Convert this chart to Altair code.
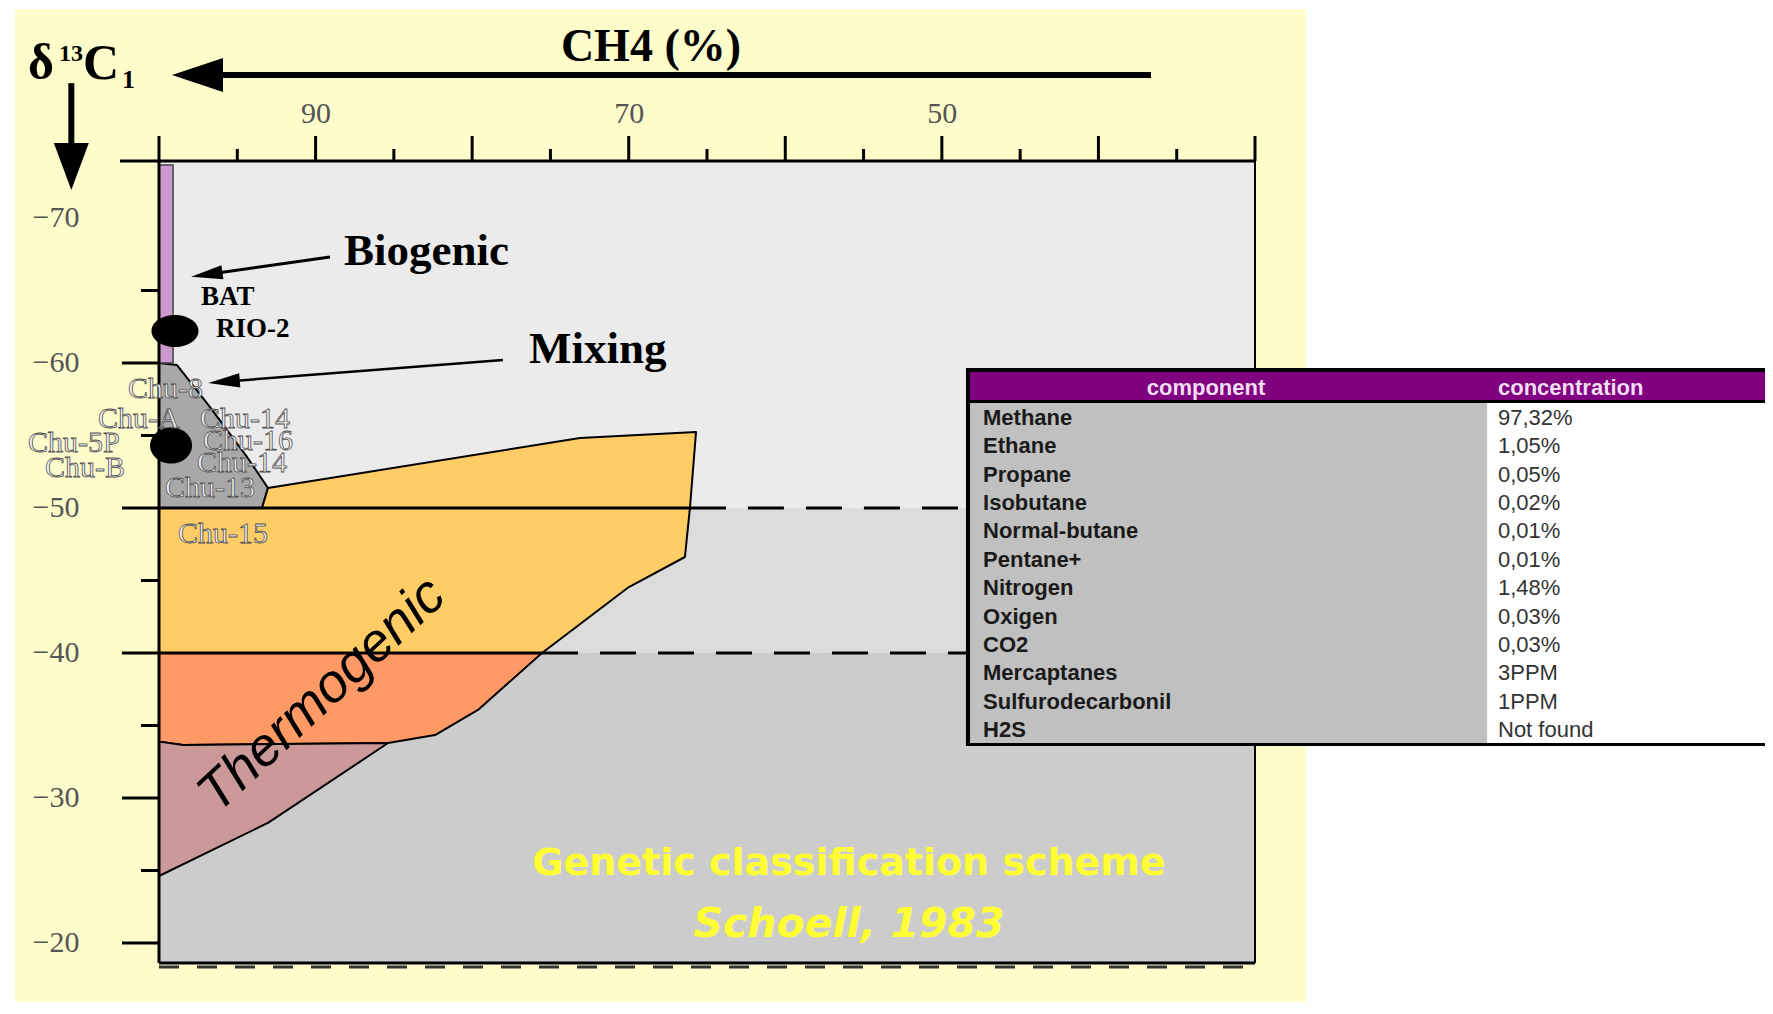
import altair as alt
import pandas as pd

# ---------------- data ----------------
X_LABELS = [90, 70, 50]
X_TICKS_MAJOR = [100, 90, 80, 70, 60, 50, 40, 30]
X_TICKS_MINOR = [95, 85, 75, 65, 55, 45, 35]
Y_LABELS = [-70, -60, -50, -40, -30, -20]
Y_TICKS_MAJOR = [-60, -50, -40, -30, -20]
Y_TICKS_MINOR = [-65, -55, -45, -35, -25]

# genetic fields: CH4 (%) and delta13C1 vertices
BIO_CH4 = [100, 99.1]
BIO_D13C = [-73.65, -60]

MIX_CH4 = [100, 98.85, 96.74, 94.38, 93.04, 93.42, 100, 100]
MIX_D13C = [-60, -59.86, -56.96, -53.52, -51.38, -50, -50, -60]

TH1_CH4 = [93.04, 73.11, 65.70, 66.09, 66.41, 69.99, 75.54, 100, 100, 93.42, 93.04]
TH1_D13C = [-51.38, -54.83, -55.24, -50.0, -46.62, -44.55, -40.0, -40.0, -50.0, -50.0, -51.38]

TH2_CH4 = [100, 75.54, 79.63, 82.37, 85.37, 98.47, 99.87, 100, 100]
TH2_D13C = [-40, -40, -36.07, -34.34, -33.79, -33.66, -33.87, -33.86, -40]

TH3_CH4 = [100, 99.87, 98.47, 85.37, 93.04, 99.87, 100, 100]
TH3_D13C = [-33.86, -33.87, -33.66, -33.79, -28.28, -24.69, -24.62, -33.86]

BOUNDARY_D13C = [-50, -40]
BOUNDARY_SOLID_END = [66.09, 75.54]

# samples
SAMPLE_CH4 = [98.98, 99.23]
SAMPLE_D13C = [-62.21, -54.31]

CHU_NAMES = ["Chu-8", "Chu-A", "Chu-14", "Chu-5P", "Chu-16", "Chu-B", "Chu-14", "Chu-13", "Chu-15"]
CHU_CH4 = [101.98, 103.90, 97.38, 108.37, 97.19, 107.28, 97.57, 99.62, 98.79]
CHU_D13C = [-57.58, -55.52, -55.52, -53.86, -54.0, -52.14, -52.48, -50.76, -47.58]

WELL_NAMES = ["BAT", "RIO-2"]
WELL_CH4 = [97.32, 96.36]
WELL_D13C = [-64.0, -61.79]

TABLE_HEADER = ["component", "concentration"]
COMPONENTS = ["Methane", "Ethane", "Propane", "Isobutane", "Normal-butane", "Pentane+",
              "Nitrogen", "Oxigen", "CO2", "Mercaptanes", "Sulfurodecarbonil", "H2S"]
CONCENTRATIONS = ["97,32%", "1,05%", "0,05%", "0,02%", "0,01%", "0,01%",
                  "1,48%", "0,03%", "0,03%", "3PPM", "1PPM", "Not found"]

# ---------------- layout (in data units of the chart scales) ----------------
X_DOMAIN = [30, 100]
Y_DOMAIN = [-73.93, -18.62]
PANEL = (109.2, 26.74, -84.41, -14.0)
BANDS = [-73.93, -50, -40, -18.62]
BAND_COLORS = ["#EBEBEB", "#DCDCDC", "#CCCCCC"]

XS = alt.Scale(domain=X_DOMAIN, reverse=True, zero=False, nice=False)
YS = alt.Scale(domain=Y_DOMAIN, reverse=True, zero=False, nice=False)
XAX = alt.Axis(orient="top", values=X_LABELS, ticks=False, domain=False, grid=False,
               labelFont="Liberation Serif", labelFontSize=30, labelColor="#555555",
               labelPadding=33, zindex=1)
YAX = alt.Axis(orient="left", values=Y_LABELS, ticks=False, domain=False, grid=False,
               labelFont="Liberation Serif", labelFontSize=30, labelColor="#555555",
               labelPadding=80, zindex=1)
X = alt.X("x:Q", scale=XS, axis=XAX, title=None)
Y = alt.Y("y:Q", scale=YS, axis=YAX, title=None)


def rect(x1, x2, y1, y2, **props):
    df = pd.DataFrame({"x": [x1], "x2": [x2], "y": [y1], "y2": [y2]})
    return alt.Chart(df).mark_rect(**props).encode(x=X, x2=alt.X2("x2"), y=Y, y2=alt.Y2("y2"))


def rules(df, **props):
    enc = dict(x=X, y=Y)
    if "x2" in df:
        enc["x2"] = alt.X2("x2")
    if "y2" in df:
        enc["y2"] = alt.Y2("y2")
    return alt.Chart(df).mark_rule(**props).encode(**enc)


def polygon(xs, ys, fill):
    df = pd.DataFrame({"x": xs, "y": ys, "i": list(range(len(xs)))})
    return alt.Chart(df).mark_line(fill=fill, stroke="black", strokeWidth=2,
                                   strokeJoin="round").encode(x=X, y=Y, order="i:Q")


def symbol(xs, ys, shape, size, angle=0):
    df = pd.DataFrame({"x": xs, "y": ys})
    return alt.Chart(df).mark_point(shape=shape, size=size, angle=angle, filled=True,
                                    color="black", opacity=1).encode(x=X, y=Y)


def text(xs, ys, labels, **props):
    df = pd.DataFrame({"x": xs, "y": ys, "t": labels})
    return alt.Chart(df).mark_text(**props).encode(x=X, y=Y, text="t:N")


layers = []
# yellow panel
layers.append(rect(PANEL[0], PANEL[1], PANEL[2], PANEL[3], color="#FFFCCC"))
# plot background bands
for i, c in enumerate(BAND_COLORS):
    layers.append(rect(100, 30, BANDS[i], BANDS[i + 1], color=c))

# genetic fields
layers.append(polygon(MIX_CH4, MIX_D13C, "#A8A8A8"))
layers.append(polygon(TH1_CH4, TH1_D13C, "#FFCC66"))
layers.append(polygon(TH2_CH4, TH2_D13C, "#FF9966"))
layers.append(polygon(TH3_CH4, TH3_D13C, "#CC9999"))
layers.append(rect(BIO_CH4[0], BIO_CH4[1], BIO_D13C[0], BIO_D13C[1],
                   color="#CC99CC", stroke="#444444", strokeWidth=1.5))

# boundary lines
layers.append(rules(pd.DataFrame({"x": [100] * 2, "x2": BOUNDARY_SOLID_END, "y": BOUNDARY_D13C}),
                    color="black", strokeWidth=3))
layers.append(rules(pd.DataFrame({"x": BOUNDARY_SOLID_END, "x2": [30] * 2, "y": BOUNDARY_D13C}),
                    color="black", strokeWidth=3, strokeDash=[36, 22]))

# frame
layers.append(rules(pd.DataFrame({"x": [102.49], "x2": [30], "y": [Y_DOMAIN[0]]}), color="black", strokeWidth=3))
layers.append(rules(pd.DataFrame({"x": [100], "y": [Y_DOMAIN[0]], "y2": [Y_DOMAIN[1]]}), color="black", strokeWidth=3))
layers.append(rules(pd.DataFrame({"x": [30], "y": [Y_DOMAIN[0]], "y2": [Y_DOMAIN[1]]}), color="black", strokeWidth=2))
layers.append(rules(pd.DataFrame({"x": [100], "x2": [30], "y": [Y_DOMAIN[1]]}), color="black", strokeWidth=3))
layers.append(rules(pd.DataFrame({"x": [100], "x2": [30], "y": [Y_DOMAIN[1]]}), color="#333333",
                    strokeWidth=3, strokeDash=[20, 18], yOffset=4))

# ticks
layers.append(rules(pd.DataFrame({"x": X_TICKS_MAJOR, "y": [Y_DOMAIN[0]] * 8, "y2": [Y_DOMAIN[0]] * 8}),
                    color="black", strokeWidth=3, y2Offset=-25))
layers.append(rules(pd.DataFrame({"x": X_TICKS_MINOR, "y": [Y_DOMAIN[0]] * 7, "y2": [Y_DOMAIN[0]] * 7}),
                    color="black", strokeWidth=3, y2Offset=-12))
layers.append(rules(pd.DataFrame({"x": [100] * 5, "x2": [100] * 5, "y": Y_TICKS_MAJOR}),
                    color="black", strokeWidth=3, x2Offset=-37))
layers.append(rules(pd.DataFrame({"x": [100] * 5, "x2": [100] * 5, "y": Y_TICKS_MINOR}),
                    color="black", strokeWidth=3, x2Offset=-18))

# sample symbols
layers.append(symbol([SAMPLE_CH4[0]], [SAMPLE_D13C[0]], "M -1 0 A 1 0.68 0 1 0 1 0 A 1 0.68 0 1 0 -1 0 Z", 2209))
layers.append(symbol([SAMPLE_CH4[1]], [SAMPLE_D13C[1]], "M -1 0 A 1 0.86 0 1 0 1 0 A 1 0.86 0 1 0 -1 0 Z", 1764))

# sample labels (light letters with a dark edge)
layers.append(text(CHU_CH4, CHU_D13C, CHU_NAMES, font="Liberation Serif", fontSize=30,
                   align="left", baseline="alphabetic", color="#F2F2F2",
                   stroke="#505050", strokeWidth=0.8))
layers.append(text(WELL_CH4, WELL_D13C, WELL_NAMES, font="Liberation Serif", fontSize=27,
                   fontWeight="bold", align="left", baseline="alphabetic", color="black"))

# field names
layers.append(text([88.18], [-66.76], ["Biogenic"], font="Liberation Serif", fontSize=45,
                   fontWeight="bold", align="left", baseline="alphabetic", color="black"))
layers.append(text([76.37], [-60.0], ["Mixing"], font="Liberation Serif", fontSize=45,
                   fontWeight="bold", align="left", baseline="alphabetic", color="black"))
layers.append(text([89.59], [-37.10], ["Thermogenic"], font="Liberation Sans", fontSize=54,
                   fontStyle="italic", align="center", baseline="middle", angle=317, color="black"))

# arrows
layers.append(rules(pd.DataFrame({"x": [89.08], "x2": [96.95], "y": [-67.31], "y2": [-66.10]}),
                    color="black", strokeWidth=3))
layers.append(symbol([96.95], [-66.10], "M -1 0 L 1 -0.45 L 1 0.45 Z", 1000, angle=351.9))
layers.append(rules(pd.DataFrame({"x": [78.03], "x2": [95.85], "y": [-60.21], "y2": [-58.71]}),
                    color="black", strokeWidth=2.5))
layers.append(symbol([95.85], [-58.71], "M -1 0 L 1 -0.45 L 1 0.45 Z", 1000, angle=355.56))
layers.append(rules(pd.DataFrame({"x": [36.64], "x2": [97.54], "y": [-79.86]}), color="black", strokeWidth=6))
layers.append(symbol([97.54], [-79.86], "M -1 0 L 1 -0.667 L 1 0.667 Z", 2601))
layers.append(rules(pd.DataFrame({"x": [105.6], "y": [-79.3], "y2": [-73.55]}), color="black", strokeWidth=6))
layers.append(symbol([105.6], [-73.55], "M 0 1 L -0.745 -1 L 0.745 -1 Z", 2209))

# axis titles
layers.append(text([68.58], [-80.83], ["CH4 (%)"], font="Liberation Serif", fontSize=46,
                   fontWeight="bold", align="center", baseline="alphabetic", color="black"))
layers.append(text([108.37, 104.85], [-79.59, -79.59], ["δ", "C"], font="Liberation Serif", fontSize=50,
                   fontWeight="bold", align="left", baseline="alphabetic", color="black"))
layers.append(text([106.39], [-80.83], ["13"], font="Liberation Serif", fontSize=24,
                   fontWeight="bold", align="left", baseline="alphabetic", color="black"))
layers.append(text([102.36], [-78.96], ["1"], font="Liberation Serif", fontSize=26,
                   fontWeight="bold", align="left", baseline="alphabetic", color="black"))

# scheme caption
layers.append(text([55.93], [-24.69], ["Genetic classification scheme"], font="DejaVu Sans", fontSize=38,
                   fontWeight="bold", align="center", baseline="alphabetic", color="#FFFF33"))
layers.append(text([55.93], [-20.41], ["Schoell, 1983"], font="DejaVu Sans", fontSize=41,
                   fontWeight="bold", fontStyle="italic", align="center", baseline="alphabetic", color="#FFFF33"))

# composition table
layers.append(rect(48.46, -3.53, -59.65, -33.59, color="black"))
layers.append(rect(48.20, -3.53, -59.38, -57.45, color="#800080"))
layers.append(rect(48.20, 15.18, -57.24, -33.79, color="#C0C0C0"))
layers.append(rect(15.18, -3.53, -57.24, -33.79, color="#FFFFFF"))
layers.append(text([33.13], [-57.79], [TABLE_HEADER[0]], font="Liberation Sans", fontSize=22,
                   fontWeight="bold", align="center", baseline="alphabetic", color="#F3DDF3"))
layers.append(text([14.48], [-57.79], [TABLE_HEADER[1]], font="Liberation Sans", fontSize=22,
                   fontWeight="bold", align="left", baseline="alphabetic", color="#F3DDF3"))
row_y = [-55.72 + 1.956 * i for i in range(len(COMPONENTS))]
layers.append(text([47.37] * len(COMPONENTS), row_y, COMPONENTS, font="Liberation Sans", fontSize=22,
                   fontWeight="bold", align="left", baseline="alphabetic", color="#1a1a1a"))
layers.append(text([14.48] * len(CONCENTRATIONS), row_y, CONCENTRATIONS, font="Liberation Sans", fontSize=22,
                   align="left", baseline="alphabetic", color="#333333"))

chart = alt.layer(*layers).properties(
    width=1096, height=802,
    padding={"left": 151, "top": 153, "right": 510, "bottom": 39},
    autosize=alt.AutoSizeParams(type="none"),
    background="white",
).configure_view(stroke="transparent")

chart.save("out.html", embed_options={"renderer": "svg", "actions": False})
